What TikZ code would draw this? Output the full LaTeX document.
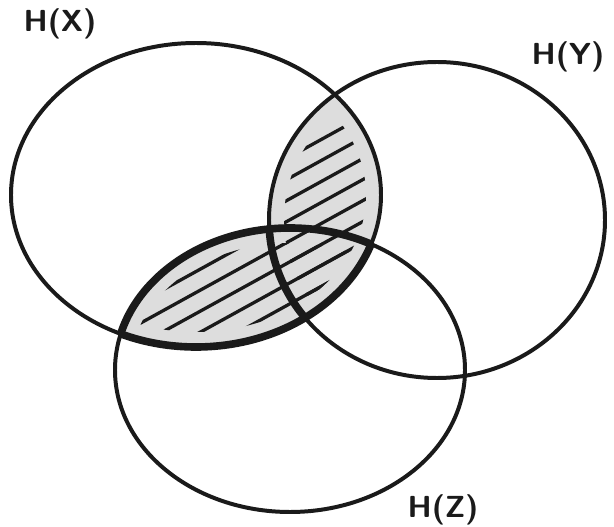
\documentclass[tikz,border=0pt]{standalone}
\usepackage{tikz}
\usepackage{xcolor}
\definecolor{lensgray}{HTML}{DDDDDD}
\definecolor{ink}{HTML}{1A1A1A}

\begin{document}
\begin{tikzpicture}[
      x=0.3mm, y=-0.3mm,
      circ/.style={draw=ink, line width=3.4pt},
      thickarc/.style={draw=ink, line width=6.5pt},
      hatch/.style={draw=ink, line width=2.8pt, line cap=round},
      lab/.style={font=\sffamily\bfseries\fontsize{26}{26}\selectfont, text=ink, inner sep=0pt}]
    \useasboundingbox (0,0) rectangle (614,527);
    % shaded parts: X with Y, X with Z
    \begin{scope}
      \clip (196,195) ellipse [x radius=185, y radius=152];
      \fill[lensgray] (437,220) ellipse [x radius=168, y radius=158];
      \fill[lensgray] (290,370) ellipse [x radius=175, y radius=142];
    \end{scope}
    \begin{scope}
      \clip (196,195) ellipse [x radius=170, y radius=137];
      \clip (437,220) ellipse [x radius=153, y radius=143];
      \foreach \c in {100,121,...,700}
        \draw[hatch] (50,\c) -- (500,\c-248);
    \end{scope}
    \begin{scope}
      \clip (196,195) ellipse [x radius=170, y radius=137];
      \clip (290,370) ellipse [x radius=160, y radius=127];
      \foreach \c in {100,121,...,700}
        \draw[hatch] (50,\c) -- (500,\c-248);
    \end{scope}
    % the three sets
    \draw[circ] (196,195) ellipse [x radius=185, y radius=152];
    \draw[circ] (437,220) ellipse [x radius=168, y radius=158];
    \draw[circ] (290,370) ellipse [x radius=175, y radius=142];
    % bold rim of X with Z
    \begin{scope}
      \clip (196,195) ellipse [x radius=185, y radius=152];
      \draw[thickarc] (290,370) ellipse [x radius=175, y radius=142];
      \clip (290,370) ellipse [x radius=175, y radius=142];
      \draw[thickarc] (437,220) ellipse [x radius=168, y radius=158];
    \end{scope}
    \begin{scope}
      \clip (290,370) ellipse [x radius=175, y radius=142];
      \draw[thickarc] (196,195) ellipse [x radius=185, y radius=152];
    \end{scope}
    \node[lab] (hx) at (60,24) {H(X)};
    \node[lab] (hy) at (568,57) {H(Y)};
    \node[lab] (hz) at (443,510) {H(Z)};
  \end{tikzpicture}
\end{document}
